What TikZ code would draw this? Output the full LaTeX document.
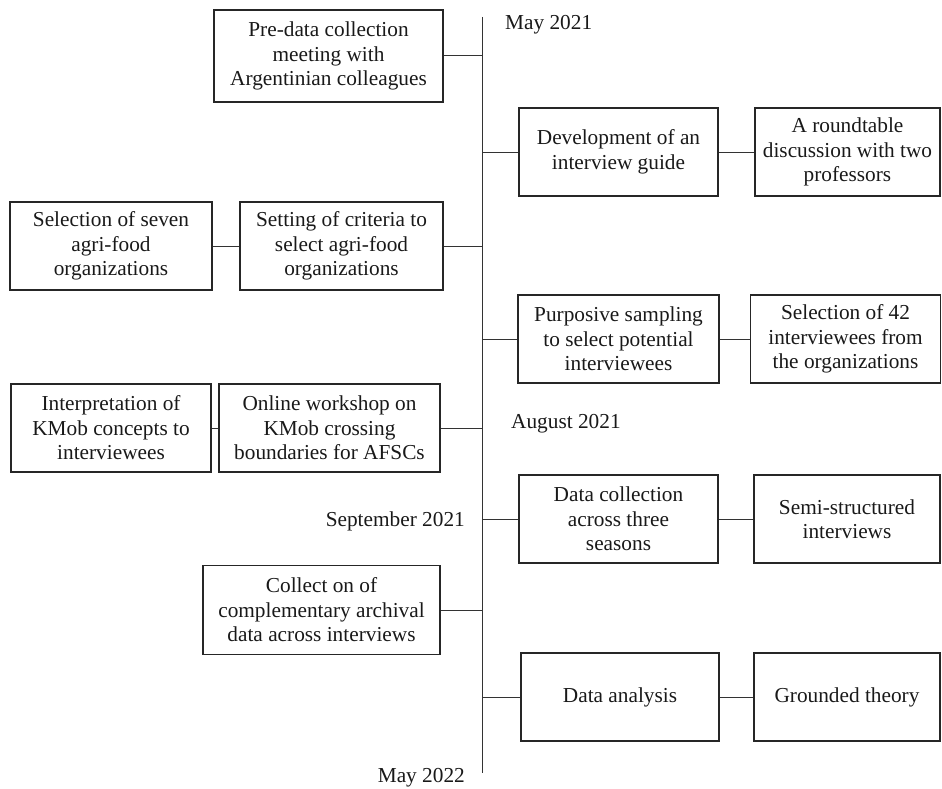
\documentclass[tikz,border=0pt]{standalone}
\usepackage{fontspec}
\setmainfont{Liberation Serif}
\usepackage{tikz}
\usepackage{xcolor}
\usetikzlibrary{arrows}

\begin{document}
\begin{tikzpicture}[x=1pt,y=-1pt]
\tikzset{stage/.style={draw=black!85,line width=1.3pt,align=center,inner sep=0pt,text=black!90,font=\fontsize{21.3}{24.5}\selectfont}}
\tikzset{datelabel/.style={text=black!90,font=\fontsize{21.3}{24.5}\selectfont,inner sep=0pt}}
\tikzset{link/.style={draw=black!80,line width=1pt}}

\useasboundingbox (0,0) rectangle (942,789);

\coordinate (top) at (482,17);
\coordinate (bot) at (482,773);
\draw[link] (top) -- (bot);

\node[datelabel,anchor=west] (may21) at (505,25) {May 2021};
\node[datelabel,anchor=west] (aug21) at (511,424) {August 2021};
\node[datelabel,anchor=east] (sep21) at (465,521) {September 2021};
\node[datelabel,anchor=east] (may22) at (465,778) {May 2022};

\node[stage,minimum width=229pt,minimum height=92pt] (premeet) at (328.5,56) {Pre-data collection\\meeting with\\Argentinian colleagues};
\node[stage,minimum width=199pt,minimum height=88pt] (guide) at (618.5,152) {Development of an\\interview guide};
\node[stage,minimum width=185pt,minimum height=88pt] (roundtable) at (847.5,152) {A roundtable\\discussion with two\\professors};
\node[stage,minimum width=202pt,minimum height=88pt] (sevenorg) at (111,246) {Selection of seven\\agri-food\\organizations};
\node[stage,minimum width=203pt,minimum height=88pt] (criteria) at (341.5,246) {Setting of criteria to\\select agri-food\\organizations};
\node[stage,minimum width=201pt,minimum height=88pt] (sampling) at (618.5,339) {Purposive sampling\\to select potential\\interviewees};
\node[stage,minimum width=190pt,minimum height=88pt] (fortytwo) at (845.5,339) {Selection of 42\\interviewees from\\the organizations};
\node[stage,minimum width=200pt,minimum height=88pt] (interpret) at (111,428) {Interpretation of\\KMob concepts to\\interviewees};
\node[stage,minimum width=221pt,minimum height=88pt] (workshop) at (329.5,428) {Online workshop on\\KMob crossing\\boundaries for AFSCs};
\node[stage,minimum width=199pt,minimum height=88pt] (collection) at (618.5,519) {Data collection\\across three\\seasons};
\node[stage,minimum width=186pt,minimum height=88pt] (semi) at (847,519) {Semi-structured\\interviews};
\node[stage,minimum width=237pt,minimum height=89pt] (archival) at (321.5,610) {Collect on of\\complementary archival\\data across interviews};
\node[stage,minimum width=198pt,minimum height=88pt] (analysis) at (620,697) {Data analysis};
\node[stage,minimum width=186pt,minimum height=88pt] (grounded) at (847,697) {Grounded theory};

\draw[link] (premeet.east) -- (premeet.east -| top);
\draw[link] (criteria.east) -- (criteria.east -| top);
\draw[link] (workshop.east) -- (workshop.east -| top);
\draw[link] (archival.east) -- (archival.east -| top);
\draw[link] (guide.west -| top) -- (guide.west);
\draw[link] (sampling.west -| top) -- (sampling.west);
\draw[link] (collection.west -| top) -- (collection.west);
\draw[link] (analysis.west -| top) -- (analysis.west);

\draw[link] (guide) -- (roundtable);
\draw[link] (sampling) -- (fortytwo);
\draw[link] (collection) -- (semi);
\draw[link] (analysis) -- (grounded);
\draw[link] (criteria) -- (sevenorg);
\draw[link] (workshop) -- (interpret);

\end{tikzpicture}
\end{document}
